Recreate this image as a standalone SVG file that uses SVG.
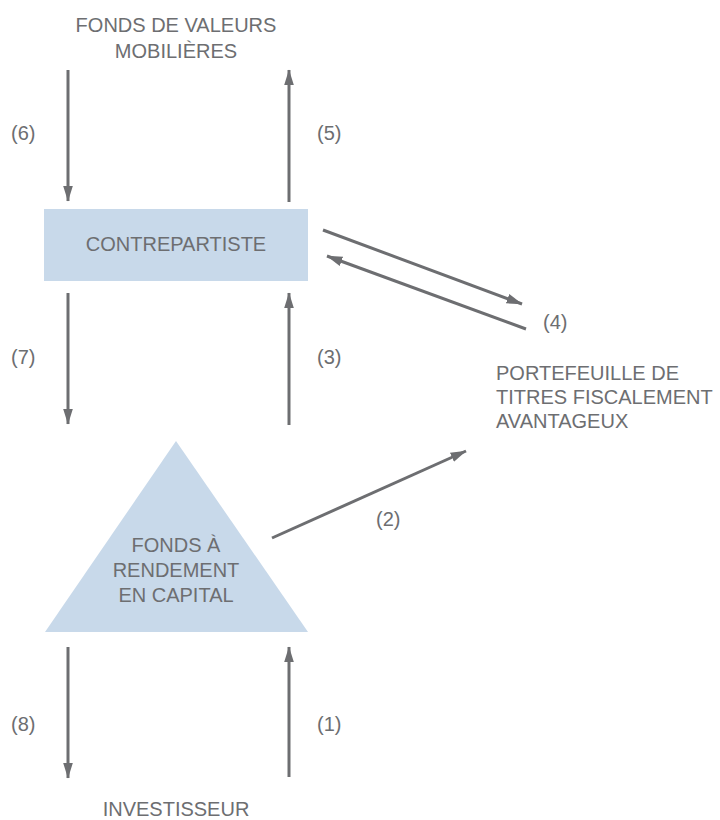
<svg xmlns="http://www.w3.org/2000/svg" width="720" height="820" viewBox="0 0 720 820">
<defs>
<style>
text{font-family:"Liberation Sans",Arial,sans-serif;font-size:20px;fill:#6d6e71}
.c{text-anchor:middle}
.a{stroke:#6d6e71;stroke-width:3;fill:none;marker-end:url(#h)}
.n{fill:#c8d9ea}
</style>
<marker id="h" markerUnits="userSpaceOnUse" markerWidth="16" markerHeight="26" viewBox="0 0 26 16" refX="25" refY="8" orient="auto">
<path d="M0,0 L26,8 L0,16 Z" fill="#6d6e71"/>
</marker>
</defs>
<rect width="720" height="820" fill="#fff"/>
<g id="fonds-valeurs">
<text class="c" x="176" y="32">FONDS DE VALEURS</text>
<text class="c" x="176" y="58">MOBILIÈRES</text>
</g>
<g id="contrepartiste">
<rect class="n" x="44" y="209" width="264" height="72"/>
<text class="c" x="176" y="251">CONTREPARTISTE</text>
</g>
<g id="portefeuille">
<text x="496" y="380">PORTEFEUILLE DE</text>
<text x="496" y="404">TITRES FISCALEMENT</text>
<text x="496" y="428">AVANTAGEUX</text>
</g>
<g id="fonds-rendement">
<polygon class="n" points="176,441 45,632 308,632"/>
<text class="c" x="176" y="552">FONDS À</text>
<text class="c" x="176" y="577">RENDEMENT</text>
<text class="c" x="176" y="602">EN CAPITAL</text>
</g>
<g id="investisseur">
<text class="c" x="176" y="816">INVESTISSEUR</text>
</g>
<g id="connectors">
<line class="a" x1="68" y1="70" x2="68" y2="201"/>
<line class="a" x1="289" y1="202" x2="289" y2="70"/>
<line class="a" x1="68" y1="293" x2="68" y2="424"/>
<line class="a" x1="289" y1="425" x2="289" y2="293"/>
<line class="a" x1="323" y1="230" x2="522" y2="304"/>
<line class="a" x1="526" y1="329" x2="327" y2="256"/>
<line class="a" x1="272" y1="538" x2="466" y2="451"/>
<line class="a" x1="68" y1="647" x2="68" y2="778"/>
<line class="a" x1="289" y1="777" x2="289" y2="647"/>
<text x="11" y="140">(6)</text>
<text x="317" y="140">(5)</text>
<text x="11" y="364">(7)</text>
<text x="317" y="364">(3)</text>
<text x="543" y="329">(4)</text>
<text x="376" y="526">(2)</text>
<text x="11" y="731">(8)</text>
<text x="317" y="731">(1)</text>
</g>
</svg>
